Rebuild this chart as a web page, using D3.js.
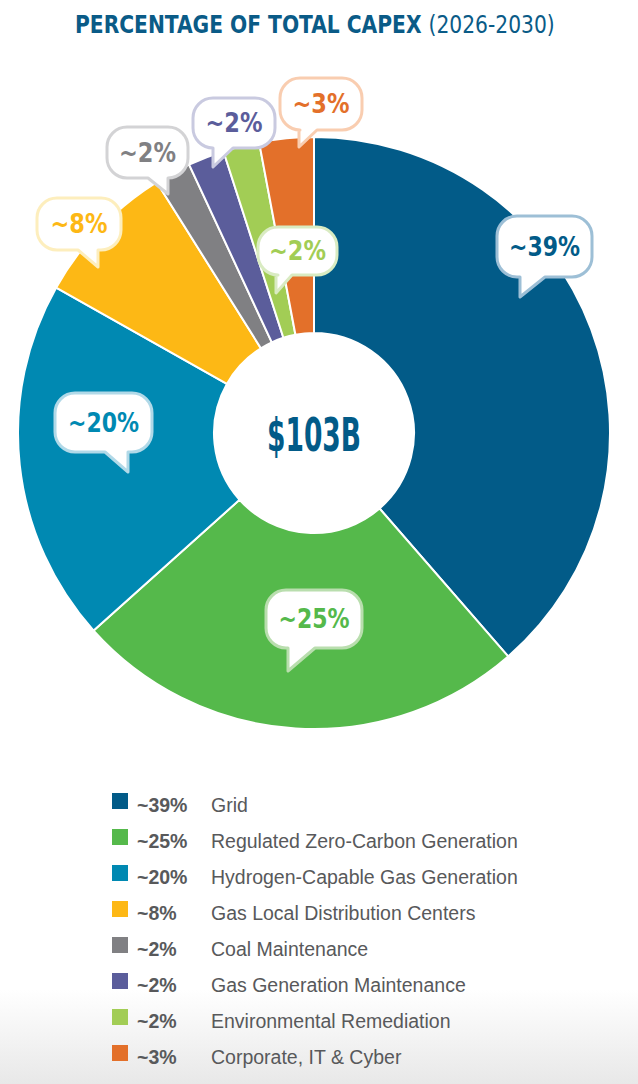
<!DOCTYPE html>
<html>
<head>
<meta charset="utf-8">
<script src="https://cdn.jsdelivr.net/npm/d3@7"></script>
<style>
  html, body { margin: 0; padding: 0; background: #fff; }
  svg { display: block; }
  .cond { font-family: "Liberation Sans Narrow", "DejaVu Sans Condensed", "DejaVu Sans", sans-serif; font-stretch: condensed; }
  .legend-text { font-family: "Liberation Sans", Arial, sans-serif; fill: #58595b; }
</style>
</head>
<body>
<div id="chart"></div>
<script>
// Capex share by category, 2026-2030
const categories = [
    'Grid',
    'Regulated Zero-Carbon Generation',
    'Hydrogen-Capable Gas Generation',
    'Gas Local Distribution Centers',
    'Coal Maintenance',
    'Gas Generation Maintenance',
    'Environmental Remediation',
    'Corporate, IT & Cyber'
];
const shares = [39, 25, 20, 8, 2, 2, 2, 3];
const shareLabels = ['~39%', '~25%', '~20%', '~8%', '~2%', '~2%', '~2%', '~3%'];
const totalLabel = '$103B';

// slice colours and the lighter tint used for the bubble borders
const colors = ['#025b88', '#55b94b', '#0089b2', '#fdb815', '#808083', '#5b5d9b', '#a2cd55', '#e3702a'];
const tints  = ['#9dbfd6', '#b9deae', '#b1d9e8', '#fdeebd', '#d3d3d5', '#c9cae0', '#d9ebc2', '#f9cdb0'];

// hand placed call-out bubbles (box, tail tip, which edge of the tail is vertical)
const bubbleLayout = [
    { x: 497, y: 216, w: 95, h: 61, tip: [520, 297], side: 'left',  tw: 25 },
    { x: 266, y: 590, w: 96, h: 58, tip: [288, 671], side: 'left',  tw: 27 },
    { x: 55,  y: 393, w: 97, h: 59, tip: [128, 472], side: 'right', tw: 23 },
    { x: 37,  y: 198, w: 84, h: 52, tip: [98, 267],  side: 'right', tw: 20 },
    { x: 107, y: 127, w: 81, h: 51, tip: [168, 194], side: 'right', tw: 20 },
    { x: 193, y: 98,  w: 82, h: 50, tip: [213, 167], side: 'left',  tw: 20 },
    { x: 258, y: 227, w: 79, h: 48, tip: [276, 293], side: 'left',  tw: 16 },
    { x: 280, y: 78,  w: 82, h: 52, tip: [299, 147], side: 'left',  tw: 18 }
];

const width = 638;
const height = 1084;
const cx = 314, cy = 433;
const outerR = 296, innerR = 100;

const svg = d3.select('#chart')
    .append('svg')
    .attr('width', width)
    .attr('height', height);

// faint grey fade at the bottom of the page
const defs = svg.append('defs');
const bg = defs.append('linearGradient')
    .attr('id', 'bg-fade')
    .attr('gradientUnits', 'userSpaceOnUse')
    .attr('x1', 0).attr('y1', 990)
    .attr('x2', 0).attr('y2', height);
bg.append('stop').attr('offset', '0%').attr('stop-color', '#ffffff');
bg.append('stop').attr('offset', '100%').attr('stop-color', '#e8e8e8');
svg.append('rect')
    .attr('width', width)
    .attr('height', height)
    .attr('fill', 'url(#bg-fade)');

// Title: bold part + regular years, squeezed to the reference width
const titleG = svg.append('g');
const title = titleG.append('text')
    .attr('class', 'cond')
    .style('font-size', '24px')
    .attr('fill', '#0a5b87');
title.append('tspan')
    .style('font-weight', 'bold')
    .text('PERCENTAGE OF TOTAL CAPEX ');
title.append('tspan')
    .text('(2026-2030)');
const titleW = title.node().getComputedTextLength() || 480;
titleG.attr('transform', `translate(75, 33) scale(${480 / titleW}, 1)`);

// Donut
const pie = d3.pie().sort(null).value(d => d);
const arc = d3.arc().innerRadius(innerR).outerRadius(outerR);

const g = svg.append('g').attr('transform', `translate(${cx}, ${cy})`);
g.selectAll('.slice')
    .data(pie(shares))
    .enter()
    .append('path')
    .attr('class', 'slice')
    .attr('d', arc)
    .attr('fill', (d, i) => colors[i])
    .attr('stroke', '#fff')
    .attr('stroke-width', 2);

g.append('text')
    .attr('class', 'cond')
    .attr('text-anchor', 'middle')
    .attr('y', 18)
    .attr('textLength', 94)
    .attr('lengthAdjust', 'spacingAndGlyphs')
    .style('font-size', '47px')
    .style('font-weight', 'bold')
    .attr('fill', '#025b88')
    .text(totalLabel);

// Speech bubbles
function bubblePath(b) {
    const r = 20;
    const x0 = b.x, y0 = b.y, x1 = b.x + b.w, y1 = b.y + b.h;
    const base = b.side === 'left' ? [b.tip[0] + b.tw, b.tip[0]] : [b.tip[0], b.tip[0] - b.tw];
    const p = d3.path();
    p.moveTo(x0 + r, y0);
    p.lineTo(x1 - r, y0);
    p.arcTo(x1, y0, x1, y0 + r, r);
    p.lineTo(x1, y1 - r);
    p.arcTo(x1, y1, x1 - r, y1, r);
    p.lineTo(base[0], y1);
    p.lineTo(b.tip[0], b.tip[1]);
    p.lineTo(base[1], y1);
    p.lineTo(x0 + r, y1);
    p.arcTo(x0, y1, x0, y1 - r, r);
    p.lineTo(x0, y0 + r);
    p.arcTo(x0, y0, x0 + r, y0, r);
    p.closePath();
    return p.toString();
}

const bubbles = svg.selectAll('.bubble')
    .data(shareLabels)
    .enter()
    .append('g')
    .attr('class', 'bubble');

bubbles.append('path')
    .attr('d', (d, i) => bubblePath(bubbleLayout[i]))
    .attr('fill', '#fff')
    .attr('stroke', (d, i) => tints[i])
    .attr('stroke-width', 3)
    .attr('stroke-linejoin', 'round');

bubbles.append('text')
    .attr('class', 'cond')
    .attr('x', (d, i) => bubbleLayout[i].x + bubbleLayout[i].w / 2)
    .attr('y', (d, i) => bubbleLayout[i].y + bubbleLayout[i].h / 2 + 9)
    .attr('text-anchor', 'middle')
    .attr('textLength', d => 14 * d.length + 15)
    .attr('lengthAdjust', 'spacingAndGlyphs')
    .style('font-size', '26px')
    .style('font-weight', 'bold')
    .attr('fill', (d, i) => colors[i])
    .text(d => d);

// Legend
const rowY = d3.scalePoint()
    .domain(categories)
    .range([805, 1057]);

const legend = svg.selectAll('.legend-row')
    .data(categories)
    .enter()
    .append('g')
    .attr('class', 'legend-row')
    .attr('transform', d => `translate(0, ${rowY(d)})`);

legend.append('rect')
    .attr('x', 112)
    .attr('y', -12)
    .attr('width', 16)
    .attr('height', 16)
    .attr('fill', (d, i) => colors[i]);

legend.append('text')
    .attr('class', 'legend-text')
    .attr('x', 137)
    .attr('y', 7)
    .style('font-size', '19.5px')
    .style('font-weight', 'bold')
    .text((d, i) => shareLabels[i]);

legend.append('text')
    .attr('class', 'legend-text')
    .attr('x', 211)
    .attr('y', 7)
    .style('font-size', '19.5px')
    .text(d => d);
</script>
</body>
</html>
